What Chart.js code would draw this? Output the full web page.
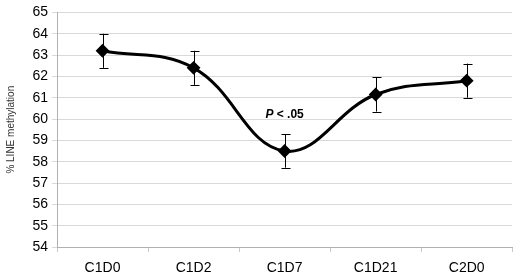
<!DOCTYPE html>
<html>
<head>
<meta charset="utf-8">
<script src="https://cdn.jsdelivr.net/npm/chart.js@4/dist/chart.umd.min.js"></script>
<style>
  html, body { margin: 0; padding: 0; background: #fff; }
  #wrap { width: 520px; height: 273px; }
</style>
</head>
<body>
<div id="wrap"><canvas id="methChart"></canvas></div>
<script>
const visits = ['C1D0', 'C1D2', 'C1D7', 'C1D21', 'C2D0'];
const methylation = [63.2, 62.4, 58.5, 61.15, 61.8];
const errors = [0.8, 0.8, 0.78, 0.8, 0.8];
const yTicks = [54, 55, 56, 57, 58, 59, 60, 61, 62, 63, 64, 65];
const note = { label: 'C1D7', value: 60.2 };

// error bars + the P value note, drawn through the chart scales
const errorBars = {
  id: 'errorBars',
  afterDatasetsDraw(chart) {
    const ctx = chart.ctx;
    const x = chart.scales.x;
    const y = chart.scales.y;
    ctx.save();
    ctx.strokeStyle = '#000';
    ctx.lineWidth = 1;
    methylation.forEach((v, i) => {
      const px = Math.round(x.getPixelForValue(i)) + 0.5;
      const top = y.getPixelForValue(v + errors[i]);
      const bot = y.getPixelForValue(v - errors[i]);
      ctx.beginPath();
      ctx.moveTo(px, top); ctx.lineTo(px, bot);
      ctx.moveTo(px - 4, Math.round(top) + 0.5); ctx.lineTo(px + 5, Math.round(top) + 0.5);
      ctx.moveTo(px - 4, Math.round(bot) + 0.5); ctx.lineTo(px + 5, Math.round(bot) + 0.5);
      ctx.stroke();
    });
    const nx = x.getPixelForValue(visits.indexOf(note.label));
    const ny = y.getPixelForValue(note.value);
    ctx.fillStyle = '#000';
    ctx.textBaseline = 'middle';
    ctx.font = 'italic bold 12px "Liberation Sans", Arial, sans-serif';
    const pw = ctx.measureText('P').width;
    ctx.font = 'bold 12px "Liberation Sans", Arial, sans-serif';
    const rest = ' < .05';
    const rw = ctx.measureText(rest).width;
    const start = nx - (pw + rw) / 2;
    ctx.font = 'italic bold 12px "Liberation Sans", Arial, sans-serif';
    ctx.fillText('P', start, ny);
    ctx.font = 'bold 12px "Liberation Sans", Arial, sans-serif';
    ctx.fillText(rest, start + pw, ny);
    ctx.restore();
  }
};

new Chart(document.getElementById('methChart'), {
  type: 'line',
  data: {
    labels: visits,
    datasets: [{
      data: methylation,
      borderColor: '#000',
      borderWidth: 3,
      tension: 0.4,
      pointStyle: 'rectRot',
      pointRadius: 4.8,
      pointBackgroundColor: '#000',
      pointBorderColor: '#000',
      fill: false
    }]
  },
  options: {
    responsive: true,
    maintainAspectRatio: false,
    animation: false,
    layout: { padding: { left: 0, right: 1, top: 0, bottom: 0 } },
    plugins: {
      legend: { display: false },
      tooltip: { enabled: false }
    },
    scales: {
      x: {
        offset: true,
        grid: {
          offset: true,
          drawOnChartArea: false,
          tickLength: 5,
          color: '#c8c8c8'
        },
        border: { color: '#b0b0b0' },
        ticks: {
          color: '#000',
          padding: 8,
          font: { family: '"Liberation Sans", Arial, sans-serif', size: 14 }
        },
        afterFit(scale) { scale.height = 26; }
      },
      y: {
        min: yTicks[0],
        max: yTicks[yTicks.length - 1],
        afterBuildTicks(scale) { scale.ticks = yTicks.map(v => ({ value: v })); },
        grid: {
          color: '#d9d9d9',
          tickLength: 5
        },
        border: { color: '#b0b0b0' },
        ticks: {
          color: '#000',
          autoSkip: false,
          padding: 4,
          font: { family: '"Liberation Sans", Arial, sans-serif', size: 14 }
        },
        title: {
          display: true,
          text: '% LINE methylation',
          color: '#333',
          padding: { top: 5, bottom: 0 },
          font: { family: '"Liberation Sans", Arial, sans-serif', size: 10 }
        },
        afterFit(scale) { scale.width = 57; }
      }
    }
  },
  plugins: [errorBars]
});
</script>
</body>
</html>
